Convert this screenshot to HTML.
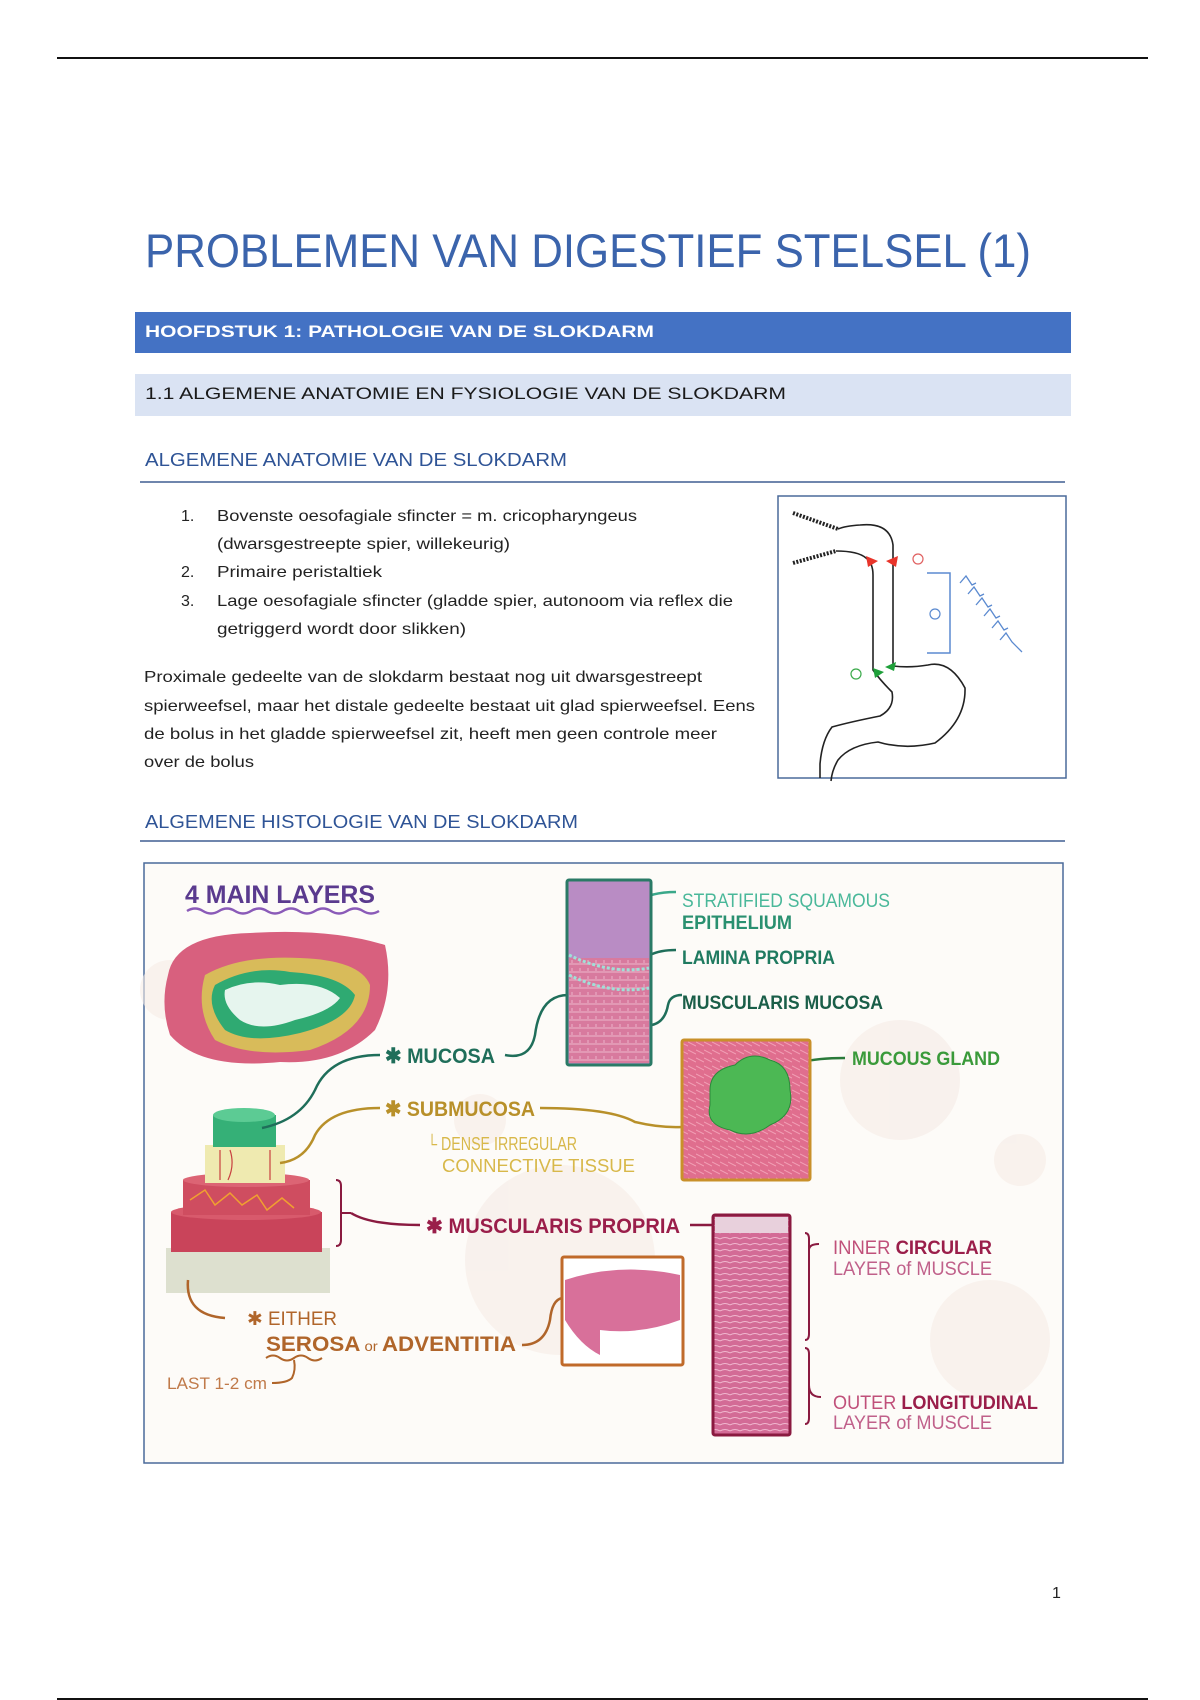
<!DOCTYPE html>
<html><head><meta charset="utf-8"><style>
html,body{margin:0;padding:0;background:#fff;}
svg{display:block;}
.b{font-family:"Liberation Sans",sans-serif;}
.n{font-family:"Liberation Sans Narrow","Liberation Sans",sans-serif;}
</style></head><body>
<svg width="1200" height="1700" viewBox="0 0 1200 1700" xmlns="http://www.w3.org/2000/svg">
<defs>
<pattern id="pk" width="8" height="8" patternUnits="userSpaceOnUse"><rect width="8" height="8" fill="#d87a9e"/><path d="M0 4h8M4 0v3" stroke="#e9a9c2" stroke-width="1.2"/></pattern>
<pattern id="pk2" width="10" height="6" patternUnits="userSpaceOnUse"><rect width="10" height="6" fill="#d36b96"/><path d="M0 3q5-3 10 0" stroke="#f0b8cf" fill="none" stroke-width="1"/></pattern>
<pattern id="gl" width="8" height="8" patternUnits="userSpaceOnUse"><rect width="8" height="8" fill="#e06e8e"/><path d="M0 2l8 4" stroke="#f2a0b6" stroke-width="1"/></pattern>
</defs>
<rect width="1200" height="1700" fill="#fff"/>
<line x1="57" y1="58" x2="1148" y2="58" stroke="#111" stroke-width="2"/>
<line x1="57" y1="1699" x2="1148" y2="1699" stroke="#111" stroke-width="2"/>

<text x="145" y="267" class="n" font-size="47" fill="#3b64ac" textLength="886" lengthAdjust="spacingAndGlyphs">PROBLEMEN VAN DIGESTIEF STELSEL (1)</text>

<rect x="135" y="312" width="936" height="41" fill="#4472c4"/>
<text x="145" y="337" class="n" font-size="17" font-weight="bold" fill="#fff" textLength="509" lengthAdjust="spacingAndGlyphs">HOOFDSTUK 1: PATHOLOGIE VAN DE SLOKDARM</text>
<rect x="135" y="374" width="936" height="42" fill="#dae3f3"/>
<text x="145" y="399" class="n" font-size="17" fill="#1a1a1a" textLength="641" lengthAdjust="spacingAndGlyphs">1.1 ALGEMENE ANATOMIE EN FYSIOLOGIE VAN DE SLOKDARM</text>

<text x="145" y="466" class="n" font-size="18" fill="#2f5496" textLength="422" lengthAdjust="spacingAndGlyphs">ALGEMENE ANATOMIE VAN DE SLOKDARM</text>
<line x1="140" y1="482" x2="1065" y2="482" stroke="#6f86ad" stroke-width="2"/>

<g class="n" font-size="16" fill="#222">
<text x="181" y="521">1.</text>
<text x="217" y="521" textLength="420" lengthAdjust="spacingAndGlyphs">Bovenste oesofagiale sfincter = m. cricopharyngeus</text>
<text x="217" y="549" textLength="293" lengthAdjust="spacingAndGlyphs">(dwarsgestreepte spier, willekeurig)</text>
<text x="181" y="577">2.</text>
<text x="217" y="577" textLength="165" lengthAdjust="spacingAndGlyphs">Primaire peristaltiek</text>
<text x="181" y="606">3.</text>
<text x="217" y="606" textLength="516" lengthAdjust="spacingAndGlyphs">Lage oesofagiale sfincter (gladde spier, autonoom via reflex die</text>
<text x="217" y="634" textLength="249" lengthAdjust="spacingAndGlyphs">getriggerd wordt door slikken)</text>
<text x="144" y="682" textLength="558" lengthAdjust="spacingAndGlyphs">Proximale gedeelte van de slokdarm bestaat nog uit dwarsgestreept</text>
<text x="144" y="711" textLength="611" lengthAdjust="spacingAndGlyphs">spierweefsel, maar het distale gedeelte bestaat uit glad spierweefsel. Eens</text>
<text x="144" y="739" textLength="573" lengthAdjust="spacingAndGlyphs">de bolus in het gladde spierweefsel zit, heeft men geen controle meer</text>
<text x="144" y="767" textLength="110" lengthAdjust="spacingAndGlyphs">over de bolus</text>
</g>

<!-- stomach diagram -->
<rect x="778" y="496" width="288" height="282" fill="#fff" stroke="#4a6a9a" stroke-width="1.5"/>
<g fill="none" stroke="#222" stroke-width="1.6">
<path d="M793 513 L838 529" stroke-dasharray="2 1.5" stroke-width="4"/>
<path d="M793 563 L836 551" stroke-dasharray="2 1.5" stroke-width="4"/>
<path d="M838 529 Q845 526 860 525 Q890 522 893 545 L893 666 Q910 668 928 665 Q950 660 965 688 Q966 720 935 743 Q905 750 878 742 Q850 745 838 760 Q832 770 831 781"/>
<path d="M836 551 Q858 551 866 558 Q873 563 873 575 L873 670 Q880 680 892 692 Q895 708 880 716 Q850 722 832 727 Q822 740 820 764 L820 778"/>
</g>
<path d="M866 556 l12 5 -10 6z" fill="#e8342a"/><path d="M898 556 l-12 5 10 6z" fill="#e8342a"/>
<circle cx="918" cy="559" r="5" fill="none" stroke="#e06060" stroke-width="1.2"/>
<path d="M873 668 l11 4 -9 6z" fill="#1fa03a"/><path d="M896 662 l-11 5 9 4z" fill="#1fa03a"/>
<circle cx="856" cy="674" r="5" fill="none" stroke="#3aaa4a" stroke-width="1.2"/>
<path d="M927 573 H950 V653 H927" fill="none" stroke="#5b8ad0" stroke-width="1.5"/>
<circle cx="935" cy="614" r="5" fill="none" stroke="#5b8ad0" stroke-width="1.2"/>
<path d="M960 583 l6-7 6 9 4-2 M968 594 l6-7 6 9 4-2 M976 605 l6-7 6 9 4-2 M984 616 l6-7 6 9 4-2 M992 628 l6-7 6 9 4-2 M1000 640 l6-7 6 9 10 10" fill="none" stroke="#5b8ad0" stroke-width="1.3"/>

<text x="145" y="828" class="n" font-size="18" fill="#2f5496" textLength="433" lengthAdjust="spacingAndGlyphs">ALGEMENE HISTOLOGIE VAN DE SLOKDARM</text>
<line x1="140" y1="841" x2="1065" y2="841" stroke="#6f86ad" stroke-width="2"/>

<!-- figure -->
<rect x="144" y="863" width="919" height="600" fill="#fdfbf8" stroke="#4a6a9a" stroke-width="1.5"/>
<g fill="#f6ece6" opacity="0.6">
<circle cx="560" cy="1260" r="95"/><circle cx="900" cy="1080" r="60"/><circle cx="1020" cy="1160" r="26"/><circle cx="990" cy="1340" r="60"/><circle cx="170" cy="990" r="30"/><circle cx="480" cy="1120" r="26"/>
</g>
<text x="185" y="903" class="b" font-size="25" font-weight="bold" fill="#5a3a8e" textLength="190" lengthAdjust="spacingAndGlyphs">4 MAIN LAYERS</text>
<path d="M187 911 q8-5 16 0 t16 0 t16 0 t16 0 t16 0 t16 0 t16 0 t16 0 t16 0 t16 0 t16 0 t16 0" fill="none" stroke="#8a5ab8" stroke-width="2.5"/>

<!-- cross section -->
<path d="M168 975 Q175 935 250 933 Q330 928 385 945 Q395 990 375 1030 Q340 1065 280 1062 Q200 1070 170 1035 Q160 1005 168 975z" fill="#d8607e"/>
<path d="M205 975 Q240 955 300 958 Q360 960 370 985 Q370 1030 310 1050 Q250 1058 215 1040 Q195 1010 205 975z" fill="#d8bb5a"/>
<path d="M215 985 Q250 965 290 972 Q340 975 355 995 Q350 1020 300 1033 Q250 1045 225 1030 Q205 1005 215 985z" fill="#2faa72"/>
<path d="M225 990 Q250 978 280 985 Q320 980 340 998 Q330 1012 295 1020 Q260 1033 240 1020 Q222 1005 225 990z" fill="#e6f5ee"/>

<!-- cylinder -->
<rect x="166" y="1248" width="164" height="45" fill="#dde0cf"/>
<rect x="171" y="1212" width="151" height="40" fill="#c9445a"/><ellipse cx="246" cy="1212" rx="75" ry="8" fill="#d85a6c"/>
<rect x="183" y="1180" width="127" height="35" fill="#cf4d60"/><ellipse cx="246" cy="1180" rx="63" ry="7" fill="#dc6474"/>
<path d="M190 1200 l15-10 10 15 15-12 12 12 15-10 10 15 15-12 12 10" fill="none" stroke="#f0a030" stroke-width="1.5"/>
<rect x="205" y="1145" width="80" height="38" fill="#efeab0"/>
<path d="M220 1150 v30 M230 1150 q5 15 -2 30 M270 1150 v30" stroke="#c84040" stroke-width="1.2" fill="none"/>
<rect x="213" y="1115" width="63" height="32" fill="#35b077"/><ellipse cx="244" cy="1115" rx="31" ry="7" fill="#5ccb94"/>
<path d="M336 1180 q5 0 5 6 v54 q0 6 -5 6 M341 1213 h10" fill="none" stroke="#8a1a40" stroke-width="2"/>

<!-- connectors -->
<g fill="none" stroke-width="2.5">
<path d="M262 1128 Q300 1120 315 1090 Q330 1055 380 1055" stroke="#1f6e5a"/>
<path d="M505 1055 Q530 1060 535 1035 Q540 995 568 995" stroke="#1f6e5a"/>
<path d="M280 1163 Q305 1160 315 1135 Q330 1108 380 1108" stroke="#b8902a"/>
<path d="M540 1108 Q610 1108 635 1122 Q660 1128 682 1127" stroke="#b8902a"/>
<path d="M351 1213 Q370 1225 420 1225" stroke="#8a1a40"/>
<path d="M690 1225 H713" stroke="#8a1a40"/>
<path d="M188 1280 Q185 1315 225 1318" stroke="#b0652a"/>
<path d="M522 1345 Q545 1345 550 1320 Q552 1300 562 1298" stroke="#b0652a"/>
<path d="M266 1358 q7 -5 14 0 t14 0 t14 0 t14 0 M294 1360 q2 10 -2 18 q-5 5 -20 5" stroke="#b0652a" stroke-width="2"/>
<path d="M637 902 Q650 892 676 892" stroke="#3aa88a"/>
<path d="M634 977 Q645 965 650 955 Q660 950 676 950" stroke="#1f6e5a"/>
<path d="M652 1025 Q665 1022 668 1005 Q670 995 682 995" stroke="#1f6e5a"/>
<path d="M782 1075 Q790 1058 845 1058" stroke="#2a7a3a"/>
<path d="M805 1233 q4 0 4 6 v95 q0 6 -4 6 M809 1250 q0 -6 10 -6" stroke="#8a1a40" stroke-width="2"/>
<path d="M805 1348 q4 0 4 6 v64 q0 6 -4 6 M809 1385 q0 12 12 12" stroke="#8a1a40" stroke-width="2"/>
</g>

<!-- histology boxes -->
<rect x="567" y="880" width="84" height="185" fill="#b98cc4" stroke="#2a7a66" stroke-width="3" rx="2"/>
<rect x="569" y="958" width="80" height="105" fill="url(#pk)"/>
<path d="M569 955 Q610 975 649 968 M569 975 Q610 995 649 988" stroke="#a0e0d8" stroke-width="3" stroke-dasharray="3 2" fill="none"/>
<rect x="682" y="1040" width="128" height="140" fill="url(#gl)" stroke="#c9902a" stroke-width="3" rx="2"/>
<path d="M710 1090 q0-20 25-25 q15-15 35-5 q20 5 20 30 q5 25 -20 35 q-20 15 -40 5 q-25 -5 -20 -25z" fill="#4cb854" stroke="#2a8a3a"/>
<rect x="562" y="1257" width="121" height="108" fill="#fff" stroke="#c06a2a" stroke-width="3" rx="2"/>
<path d="M565 1280 Q620 1262 680 1275 L680 1320 Q640 1335 600 1330 L600 1355 Q580 1345 565 1320z" fill="#d8709a"/>
<rect x="713" y="1215" width="77" height="220" fill="url(#pk2)" stroke="#8a1a40" stroke-width="3" rx="2"/>
<rect x="715" y="1217" width="73" height="16" fill="#e8d0dc"/>

<!-- labels -->
<g class="b" font-weight="bold">
<text x="385" y="1063" font-size="21" fill="#1f6e5a" textLength="110" lengthAdjust="spacingAndGlyphs">✱ MUCOSA</text>
<text x="385" y="1116" font-size="21" fill="#b8902a" textLength="150" lengthAdjust="spacingAndGlyphs">✱ SUBMUCOSA</text>
<text x="426" y="1233" font-size="21" fill="#9a1e4a" textLength="254" lengthAdjust="spacingAndGlyphs">✱ MUSCULARIS PROPRIA</text>
<text x="682" y="929" font-size="19" fill="#2a9070" textLength="110" lengthAdjust="spacingAndGlyphs">EPITHELIUM</text>
<text x="682" y="964" font-size="19" fill="#1f7a60" textLength="153" lengthAdjust="spacingAndGlyphs">LAMINA PROPRIA</text>
<text x="682" y="1009" font-size="19" fill="#1a5e48" textLength="201" lengthAdjust="spacingAndGlyphs">MUSCULARIS MUCOSA</text>
<text x="852" y="1065" font-size="19" fill="#3a9a3a" textLength="148" lengthAdjust="spacingAndGlyphs">MUCOUS GLAND</text>
<text x="266" y="1351" font-size="21" fill="#b0652a" textLength="250" lengthAdjust="spacingAndGlyphs"><tspan>SEROSA</tspan><tspan font-weight="normal" font-size="14"> or </tspan><tspan>ADVENTITIA</tspan></text>
</g>
<g class="b">
<text x="682" y="907" font-size="19" fill="#4ab89a" textLength="208" lengthAdjust="spacingAndGlyphs">STRATIFIED SQUAMOUS</text>
<text x="427" y="1150" font-size="18" fill="#d8b84a" textLength="150" lengthAdjust="spacingAndGlyphs">└ DENSE IRREGULAR</text>
<text x="442" y="1172" font-size="18" fill="#d8b84a" textLength="193" lengthAdjust="spacingAndGlyphs">CONNECTIVE TISSUE</text>
<text x="247" y="1325" font-size="19" fill="#b0652a" textLength="90" lengthAdjust="spacingAndGlyphs">✱ EITHER</text>
<text x="167" y="1389" font-size="17" fill="#c07a4a" textLength="100" lengthAdjust="spacingAndGlyphs">LAST 1-2 cm</text>
<text x="833" y="1254" font-size="19" fill="#c0507a" textLength="159" lengthAdjust="spacingAndGlyphs">INNER <tspan font-weight="bold" fill="#9a1e4a">CIRCULAR</tspan></text>
<text x="833" y="1275" font-size="19" fill="#c0608a" textLength="159" lengthAdjust="spacingAndGlyphs">LAYER of MUSCLE</text>
<text x="833" y="1409" font-size="19" fill="#c0507a" textLength="205" lengthAdjust="spacingAndGlyphs">OUTER <tspan font-weight="bold" fill="#9a1e4a">LONGITUDINAL</tspan></text>
<text x="833" y="1429" font-size="19" fill="#c0608a" textLength="159" lengthAdjust="spacingAndGlyphs">LAYER of MUSCLE</text>
</g>

<text x="1052" y="1598" class="b" font-size="16" fill="#222">1</text>
</svg>
</body></html>
